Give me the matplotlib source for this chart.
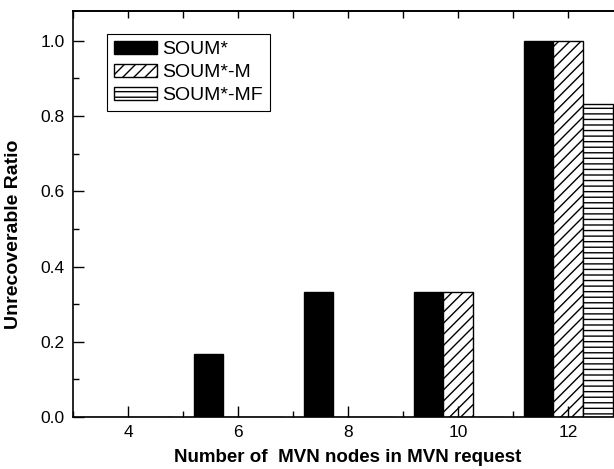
import numpy as np
import matplotlib
matplotlib.use("Agg")
import matplotlib.pyplot as plt
from matplotlib.ticker import MultipleLocator

plt.rcParams["font.family"] = ["Liberation Sans", "DejaVu Sans"]
plt.rcParams["hatch.linewidth"] = 1.0

# Data
nodes = [4, 6, 8, 10, 12]
soum = [0.0, 1 / 6, 1 / 3, 1 / 3, 1.0]
soum_m = [0.0, 0.0, 0.0, 1 / 3, 1.0]
soum_mf = [0.0, 0.0, 0.0, 0.0, 5 / 6]
series_names = ["SOUM*", "SOUM*-M", "SOUM*-MF"]
y_ticks = [0.0, 0.2, 0.4, 0.6, 0.8, 1.0]

fig = plt.figure(figsize=(6.14, 4.69), dpi=100)
ax = fig.add_axes([0.119, 0.111, 0.896, 0.866])

x = np.array(nodes, dtype=float)
w = 0.54
ax.bar(x - w, soum, w, color="black", edgecolor="black", linewidth=1.0,
       label=series_names[0])
ax.bar(x, soum_m, w, color="white", edgecolor="black", linewidth=1.0,
       hatch="///", label=series_names[1])
ax.bar(x + w, soum_mf, w, color="white", edgecolor="black", linewidth=1.0,
       hatch="---", label=series_names[2])

ax.set_xlim(3, 13)
ax.set_ylim(0, 1.08)
ax.set_xticks(nodes)
ax.set_xticklabels([str(n) for n in nodes])
ax.set_yticks(y_ticks)
ax.set_yticklabels([f"{v:.1f}" for v in y_ticks])
ax.xaxis.set_minor_locator(MultipleLocator(1))
ax.yaxis.set_minor_locator(MultipleLocator(0.1))

ax.tick_params(which="major", direction="in", length=8, width=1.0,
               labelsize=12.5, pad=6)
ax.tick_params(which="minor", direction="in", length=4, width=1.0)
ax.tick_params(axis="x", which="both", top=False)

# short ticks along the top edge
top = ax.secondary_xaxis("top")
top.set_xticks(range(3, 14))
top.tick_params(direction="in", length=5, width=1.0, labeltop=False)
top.xaxis.set_minor_locator(matplotlib.ticker.NullLocator())
top.spines["top"].set_linewidth(1.2)

for s in ax.spines.values():
    s.set_linewidth(1.2)

ax.set_xlabel("Number of  MVN nodes in MVN request", fontsize=13.5,
              fontweight="bold", labelpad=6)
ax.set_ylabel("Unrecoverable Ratio", fontsize=14, fontweight="bold")
ax.yaxis.set_label_coords(-0.093, 0.45)

leg = fig.legend(loc="upper left", bbox_to_anchor=(107 / 614, 1 - 34 / 469),
                 borderaxespad=0, fontsize=14, frameon=True, fancybox=False,
                 edgecolor="black", framealpha=1, handlelength=2.2,
                 handleheight=0.65, labelspacing=0.3, handletextpad=0.3,
                 borderpad=0.35)
leg.get_frame().set_linewidth(0.8)

fig.savefig("out.png", dpi=100)
